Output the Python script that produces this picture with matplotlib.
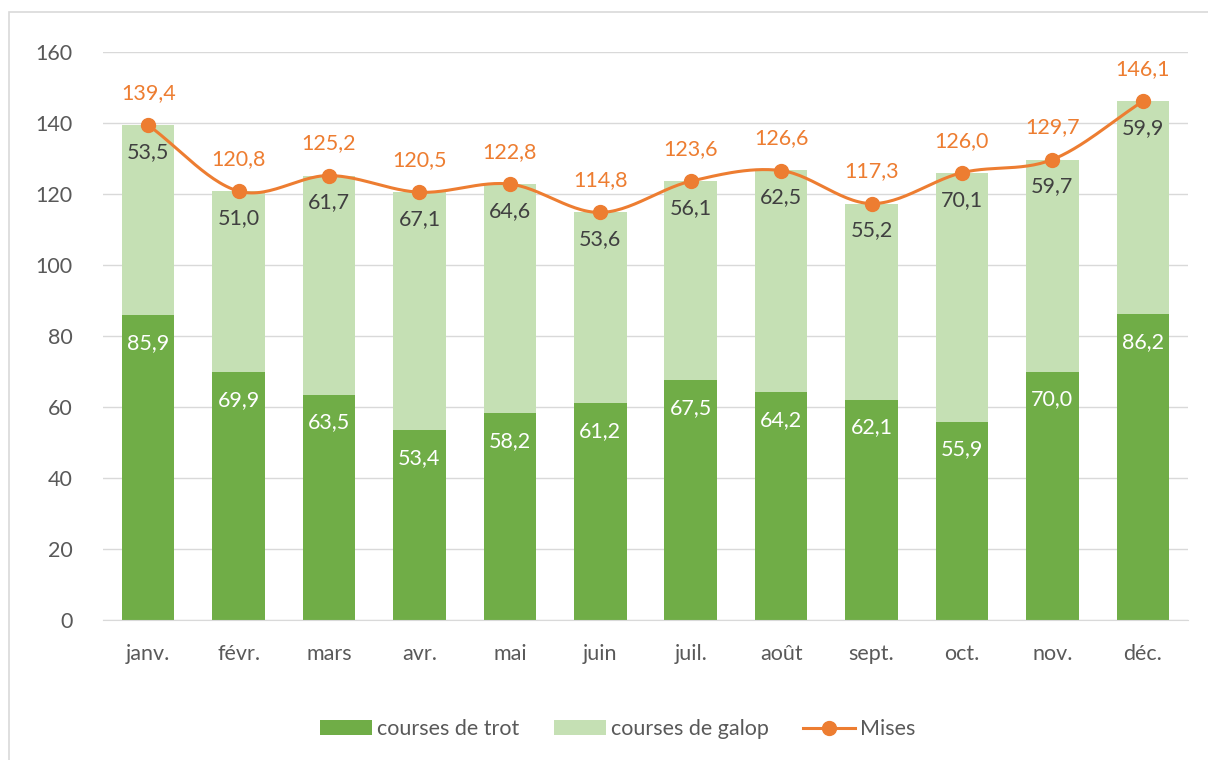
import numpy as np
import matplotlib
matplotlib.use("Agg")
import matplotlib.pyplot as plt
from matplotlib.patches import Rectangle

plt.rcParams["font.family"] = ["Lato", "DejaVu Sans"]

months = ["janv.", "févr.", "mars", "avr.", "mai", "juin",
          "juil.", "août", "sept.", "oct.", "nov.", "déc."]
trot = [85.9, 69.9, 63.5, 53.4, 58.2, 61.2, 67.5, 64.2, 62.1, 55.9, 70.0, 86.2]
galop = [53.5, 51.0, 61.7, 67.1, 64.6, 53.6, 56.1, 62.5, 55.2, 70.1, 59.7, 59.9]
mises = [139.4, 120.8, 125.2, 120.5, 122.8, 114.8, 123.6, 126.6, 117.3, 126.0, 129.7, 146.1]

GREEN = "#70AD47"
LIGHT = "#C5E0B4"
ORANGE = "#ED7D31"
TEXT = "#595959"
FS = 15.5


def catmull_rom(x, y, n=30):
    # smooth curve through every point, like a spreadsheet "smoothed line"
    x = np.asarray(x, float)
    y = np.asarray(y, float)
    px = np.concatenate([[2 * x[0] - x[1]], x, [2 * x[-1] - x[-2]]])
    py = np.concatenate([[2 * y[0] - y[1]], y, [2 * y[-1] - y[-2]]])
    xs, ys = [], []
    t = np.linspace(0, 1, n)
    for i in range(1, len(px) - 2):
        p0, p1, p2, p3 = (np.array([px[j], py[j]]) for j in range(i - 1, i + 3))
        pts = 0.5 * ((2 * p1)[:, None] + (-p0 + p2)[:, None] * t
                     + (2 * p0 - 5 * p1 + 4 * p2 - p3)[:, None] * t ** 2
                     + (-p0 + 3 * p1 - 3 * p2 + p3)[:, None] * t ** 3)
        xs.append(pts[0])
        ys.append(pts[1])
    return np.concatenate(xs), np.concatenate(ys)


fig = plt.figure(figsize=(12.08, 7.6), dpi=100)
ax = fig.add_axes([103 / 1208, 1 - 620 / 760, (1188 - 103) / 1208, (620 - 52) / 760])

x = np.arange(len(months))
b1 = ax.bar(x, trot, width=0.58, color=GREEN, label="courses de trot", zorder=2)
b2 = ax.bar(x, galop, width=0.58, bottom=trot, color=LIGHT, label="courses de galop", zorder=2)

sx, sy = catmull_rom(x, mises)
ax.plot(sx, sy, color=ORANGE, lw=2.2, zorder=3)
ax.plot(x, mises, "o", color=ORANGE, ms=10, zorder=4)
l1, = ax.plot([], [], "-o", color=ORANGE, lw=2.2, ms=10, label="Mises")

fmt = lambda v: f"{v:.1f}".replace(".", ",")
for i in x:
    ax.annotate(fmt(trot[i]), (i, trot[i]), xytext=(0, -28), textcoords="offset pixels",
                ha="center", va="center", color="white", fontsize=FS, zorder=5)
    ax.annotate(fmt(galop[i]), (i, trot[i] + galop[i]), xytext=(0, -27), textcoords="offset pixels",
                ha="center", va="center", color="#404040", fontsize=FS, zorder=5)
    ax.annotate(fmt(mises[i]), (i, mises[i]), xytext=(0, 32), textcoords="offset pixels",
                ha="center", va="center", color=ORANGE, fontsize=FS, zorder=5)

ax.set_xlim(-0.5, len(months) - 0.5)
ax.set_ylim(0, 160)
ax.set_yticks(range(0, 161, 20))
ax.set_xticks(x)
ax.set_xticklabels(months)
ax.tick_params(length=0, labelsize=FS, colors=TEXT)
ax.tick_params(axis="y", pad=22)
ax.tick_params(axis="x", pad=17)
ax.grid(axis="y", color="#D9D9D9", lw=1, zorder=0)
for s in ["top", "right", "left"]:
    ax.spines[s].set_visible(False)
ax.spines["bottom"].set_color("#D9D9D9")

leg = fig.legend(handles=[b1, b2, l1], loc="center", bbox_to_anchor=(618 / 1208, 1 - 729 / 760),
                 ncol=3, frameon=False, fontsize=FS, handlelength=2.4, handleheight=0.65,
                 columnspacing=1.6, handletextpad=0.25, labelcolor=TEXT)

# chart area frame
fig.patches.append(Rectangle((9 / 1208, -0.1), 1.2, 1 - 12 / 760 + 0.1, transform=fig.transFigure,
                             fill=False, ec="#D9D9D9", lw=1.2))

fig.savefig("out.png", dpi=100)
